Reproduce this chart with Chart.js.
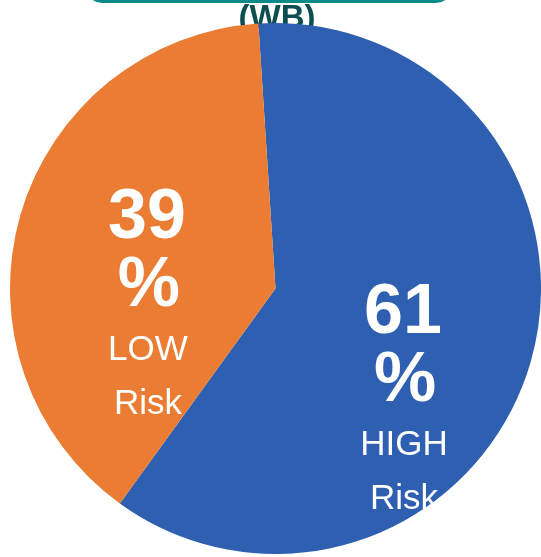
<!DOCTYPE html>
<html>
<head>
<meta charset="utf-8">
<script src="https://cdn.jsdelivr.net/npm/chart.js@4/dist/chart.umd.min.js"></script>
<style>
  html, body { margin: 0; padding: 0; background: #ffffff; }
  #wrap { width: 541px; height: 557px; position: relative; }
</style>
</head>
<body>
<div id="wrap"><canvas id="pie" width="541" height="557"></canvas></div>
<script>
// Risk split (WB)
const categories = ['HIGH Risk', 'LOW Risk'];
const values = [61, 39];
const sliceColors = ['#2E5FB1', '#EA7D33'];
const headerText = '(WB)';

// Per-slice label nudges from the arc's centre point (first baseline)
const labelNudge = [{ dx: 0, dy: 8 }, { dx: -1, dy: -14 }];

// Header strip and caption drawn beneath the pie
const headerPlugin = {
  id: 'header',
  beforeDraw(chart) {
    const ctx = chart.ctx;
    ctx.save();
    ctx.fillStyle = '#0C8A88';
    ctx.beginPath();
    ctx.roundRect(86, -40, 366, 43, 16);
    ctx.fill();
    ctx.fillStyle = '#0D4F50';
    ctx.font = 'bold 33px "Liberation Sans", Arial, sans-serif';
    ctx.textAlign = 'center';
    ctx.textBaseline = 'alphabetic';
    ctx.fillText(headerText, 277, 28);
    ctx.restore();
  }
};

// Value and category text inside each slice
const sliceLabelPlugin = {
  id: 'sliceLabels',
  afterDatasetsDraw(chart) {
    const ctx = chart.ctx;
    const meta = chart.getDatasetMeta(0);
    ctx.save();
    ctx.fillStyle = '#ffffff';
    ctx.textAlign = 'center';
    ctx.textBaseline = 'alphabetic';
    meta.data.forEach((arc, i) => {
      const c = arc.getCenterPoint();
      const x = c.x + labelNudge[i].dx;
      const y = c.y + labelNudge[i].dy;
      const words = categories[i].split(' ');
      ctx.font = 'bold 70px "Liberation Sans", Arial, sans-serif';
      ctx.fillText(String(values[i]), x, y);
      ctx.fillText('%', x + 2, y + 68);
      ctx.font = '35px "Liberation Sans", Arial, sans-serif';
      ctx.fillText(words[0], x + 1, y + 122);
      ctx.fillText(words[1], x + 1, y + 176);
    });
    ctx.restore();
  }
};

new Chart(document.getElementById('pie'), {
  type: 'pie',
  data: {
    labels: categories,
    datasets: [{
      data: values,
      backgroundColor: sliceColors,
      borderWidth: 0
    }]
  },
  options: {
    responsive: false,
    animation: false,
    rotation: -3.7,
    layout: { padding: { top: 22, bottom: 2, left: 10, right: 0 } },
    plugins: {
      legend: { display: false },
      tooltip: { enabled: false },
      title: { display: false }
    }
  },
  plugins: [headerPlugin, sliceLabelPlugin]
});
</script>
</body>
</html>
